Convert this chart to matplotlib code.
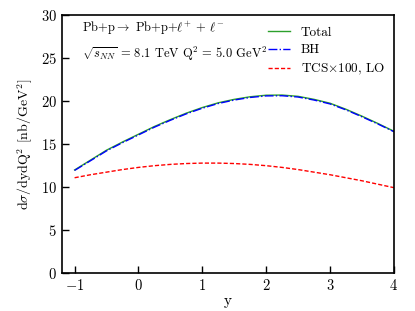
import numpy as np
import matplotlib
matplotlib.use('Agg')
import matplotlib.pyplot as plt

plt.rcParams['font.family'] = 'serif'
plt.rcParams['font.serif'] = ['cmr10']
plt.rcParams['mathtext.fontset'] = 'cm'
plt.rcParams['axes.formatter.use_mathtext'] = True
plt.rcParams['axes.unicode_minus'] = True

# rapidity grid and cross sections
y_vals = [-1.0, -0.75, -0.5, -0.25, 0.0, 0.25, 0.5, 0.75, 1.0, 1.25, 1.5,
          1.75, 2.0, 2.25, 2.5, 2.75, 3.0, 3.25, 3.5, 3.75, 4.0]
total = [12.0, 13.15, 14.3, 15.25, 16.15, 17.05, 17.85, 18.6, 19.25, 19.8,
         20.2, 20.5, 20.68, 20.7, 20.55, 20.2, 19.75, 19.05, 18.25, 17.4, 16.5]
bh = [11.95, 13.08, 14.22, 15.17, 16.07, 16.97, 17.77, 18.52, 19.17, 19.72,
      20.12, 20.42, 20.6, 20.62, 20.47, 20.12, 19.67, 18.98, 18.18, 17.34, 16.45]
tcs = [11.1, 11.45, 11.75, 12.05, 12.3, 12.5, 12.65, 12.75, 12.8, 12.8, 12.75,
       12.65, 12.5, 12.3, 12.05, 11.75, 11.45, 11.1, 10.75, 10.35, 9.95]

fig = plt.figure(figsize=(4.15, 3.11), dpi=100)
ax = fig.add_axes([0.149, 0.121, 0.800, 0.831])

ax.plot(y_vals, total, color='#2ca02c', lw=1.0, label='Total')
ax.plot(y_vals, bh, color='b', lw=1.0, ls='-.', label='BH')
ax.plot(y_vals, tcs, color='r', lw=1.0, ls='--', dashes=(3, 1.5),
        label=r'TCS$\times$100, LO')

ax.set_xlim(-1.2, 4)
ax.set_ylim(0, 30)
ax.set_xticks([-1, 0, 1, 2, 3, 4])
ax.set_yticks([0, 5, 10, 15, 20, 25, 30])
ax.tick_params(direction='in', length=5, width=1, labelsize=10.5)
for s in ax.spines.values():
    s.set_linewidth(1.2)

ax.set_xlabel('y', fontsize=11, labelpad=1)
ax.set_ylabel(r'd$\sigma$/dydQ$^2$ [nb/GeV$^2$]', fontsize=10)

ax.text(0.06, 0.948, r'Pb+p$\rightarrow$ Pb+p+$\ell^{+}$ + $\ell^{-}$',
        transform=ax.transAxes, fontsize=9, va='center')
ax.text(0.06, 0.85, r'$\sqrt{s_{NN}}$ = 8.1 TeV Q$^2$ = 5.0 GeV$^2$',
        transform=ax.transAxes, fontsize=9, va='center')

ax.legend(loc='upper right', bbox_to_anchor=(0.99, 0.975), frameon=False,
          fontsize=9.5, handlelength=1.7, handletextpad=0.8,
          borderaxespad=0, labelspacing=0.4)

fig.savefig('out.png', dpi=100)
